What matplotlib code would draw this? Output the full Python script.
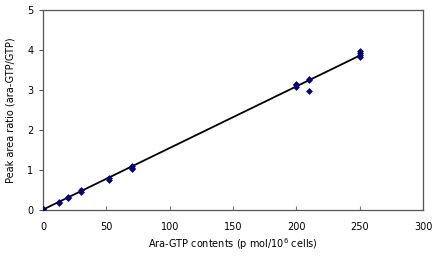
import numpy as np
import matplotlib
matplotlib.use("Agg")
import matplotlib.pyplot as plt

# measured points (Ara-GTP contents vs peak area ratio)
x_pts = [0, 0, 12.5, 12.5, 20, 20, 30, 30, 52, 52, 70, 70, 70,
         200, 200, 200, 210, 210, 210, 250, 250, 250, 250]
y_pts = [0.02, 0.03, 0.18, 0.2, 0.3, 0.32, 0.46, 0.49, 0.76, 0.8, 1.02, 1.05, 1.1,
         3.07, 3.12, 3.16, 3.24, 3.28, 2.98, 3.83, 3.88, 3.93, 3.97]

# regression line end points
fit_x = [0, 250]
fit_y = [0.01, 3.86]

fig = plt.figure(figsize=(4.36, 2.61), dpi=100)
ax = fig.add_axes([43/436, 51/261, 380/436, 200/261])

ax.plot(fit_x, fit_y, color="black", lw=1.3, zorder=2)
ax.scatter(x_pts, y_pts, marker="D", s=12, color="#000080", zorder=3, linewidths=0)

ax.set_xlim(0, 300)
ax.set_ylim(0, 5)
ax.set_xticks(np.arange(0, 301, 50))
ax.set_yticks(np.arange(0, 6, 1))

for s in ax.spines.values():
    s.set_color("#555555")
    s.set_linewidth(0.9)

ax.tick_params(axis="x", direction="in", length=3, labelsize=7, pad=9, color="#777777")
ax.tick_params(axis="y", direction="out", length=3, labelsize=7, pad=4, color="#555555")

ax.set_xlabel("Ara-GTP contents (p mol/10$^6$ cells)", fontsize=7, labelpad=3)
ax.set_ylabel("Peak area ratio (ara-GTP/GTP)", fontsize=7, labelpad=8)

fig.savefig("out.png", dpi=100)
